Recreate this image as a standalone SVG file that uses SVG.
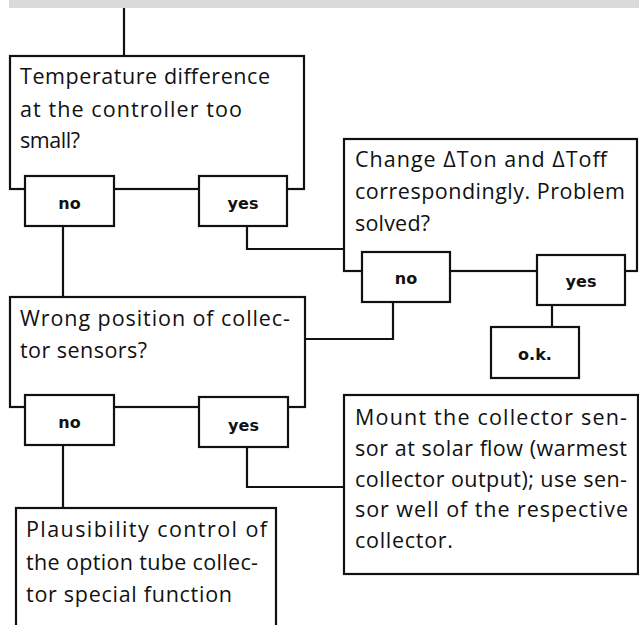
<svg xmlns="http://www.w3.org/2000/svg" width="639" height="625" viewBox="0 0 639 625">
<style>
.box{fill:#fff;stroke:#111;stroke-width:2.2}
.lbl{fill:#fff;stroke:#111;stroke-width:2.2}
.c{fill:none;stroke:#111;stroke-width:2.2}
.t{font-family:"Open Sans","Liberation Sans",sans-serif;font-size:21.5px;fill:#111}
.b{font-family:"DejaVu Sans",Verdana,sans-serif;font-weight:bold;font-size:16px;fill:#111;text-anchor:middle}
</style>
<rect x="9" y="0" width="630" height="8" fill="#d9dadc"/>
<g id="connectors">
<path class="c" d="M124 8V56"/>
<path class="c" d="M63 226V297"/>
<path class="c" d="M247 226V249H344"/>
<path class="c" d="M393 302V339H305"/>
<path class="c" d="M552 305V327"/>
<path class="c" d="M63 445V508"/>
<path class="c" d="M247 447V487H344"/>
</g>
<g id="q1">
<rect class="box" x="10" y="56" width="294" height="133"/>
<text class="t" x="20" y="84" textLength="250" lengthAdjust="spacing">Temperature difference</text>
<text class="t" x="20" y="116.5" textLength="222" lengthAdjust="spacing">at the controller too</text>
<text class="t" x="20" y="148" textLength="60" lengthAdjust="spacing">small?</text>
</g>
<g id="q1-no"><rect class="lbl" x="25" y="176" width="89" height="50"/><text class="b" x="69.5" y="209">no</text></g>
<g id="q1-yes"><rect class="lbl" x="199" y="176" width="88" height="50"/><text class="b" x="243" y="209">yes</text></g>
<g id="q2">
<rect class="box" x="344" y="139" width="293" height="132"/>
<text class="t" x="355" y="167" textLength="252" lengthAdjust="spacing">Change ΔTon and ΔToff</text>
<text class="t" x="355" y="199" textLength="270" lengthAdjust="spacing">correspondingly. Problem</text>
<text class="t" x="355" y="231" textLength="75" lengthAdjust="spacing">solved?</text>
</g>
<g id="q2-no"><rect class="lbl" x="362" y="252" width="88" height="50"/><text class="b" x="406" y="284">no</text></g>
<g id="q2-yes"><rect class="lbl" x="537" y="255" width="88" height="50"/><text class="b" x="581" y="287">yes</text></g>
<g id="ok"><rect class="lbl" x="491" y="327" width="88" height="51"/><text class="b" x="535" y="360">o.k.</text></g>
<g id="q3">
<rect class="box" x="10" y="297" width="295" height="110"/>
<text class="t" x="20" y="326" textLength="270" lengthAdjust="spacing">Wrong position of collec-</text>
<text class="t" x="20" y="358" textLength="127" lengthAdjust="spacing">tor sensors?</text>
</g>
<g id="q3-no"><rect class="lbl" x="25" y="395" width="89" height="50"/><text class="b" x="69.5" y="428">no</text></g>
<g id="q3-yes"><rect class="lbl" x="199" y="397" width="89" height="50"/><text class="b" x="243.5" y="431">yes</text></g>
<g id="plausibility">
<rect class="box" x="16" y="508" width="260" height="130"/>
<text class="t" x="26" y="537" textLength="241" lengthAdjust="spacing">Plausibility control of</text>
<text class="t" x="26" y="570" textLength="232" lengthAdjust="spacing">the option tube collec-</text>
<text class="t" x="26" y="602" textLength="206" lengthAdjust="spacing">tor special function</text>
</g>
<g id="mount">
<rect class="box" x="344" y="395" width="294" height="179"/>
<text class="t" x="355" y="425" textLength="272" lengthAdjust="spacing">Mount the collector sen-</text>
<text class="t" x="355" y="456" textLength="272" lengthAdjust="spacing">sor at solar flow (warmest</text>
<text class="t" x="355" y="487" textLength="272" lengthAdjust="spacing">collector output); use sen-</text>
<text class="t" x="355" y="517" textLength="273" lengthAdjust="spacing">sor well of the respective</text>
<text class="t" x="355" y="548" textLength="98" lengthAdjust="spacing">collector.</text>
</g>
</svg>
